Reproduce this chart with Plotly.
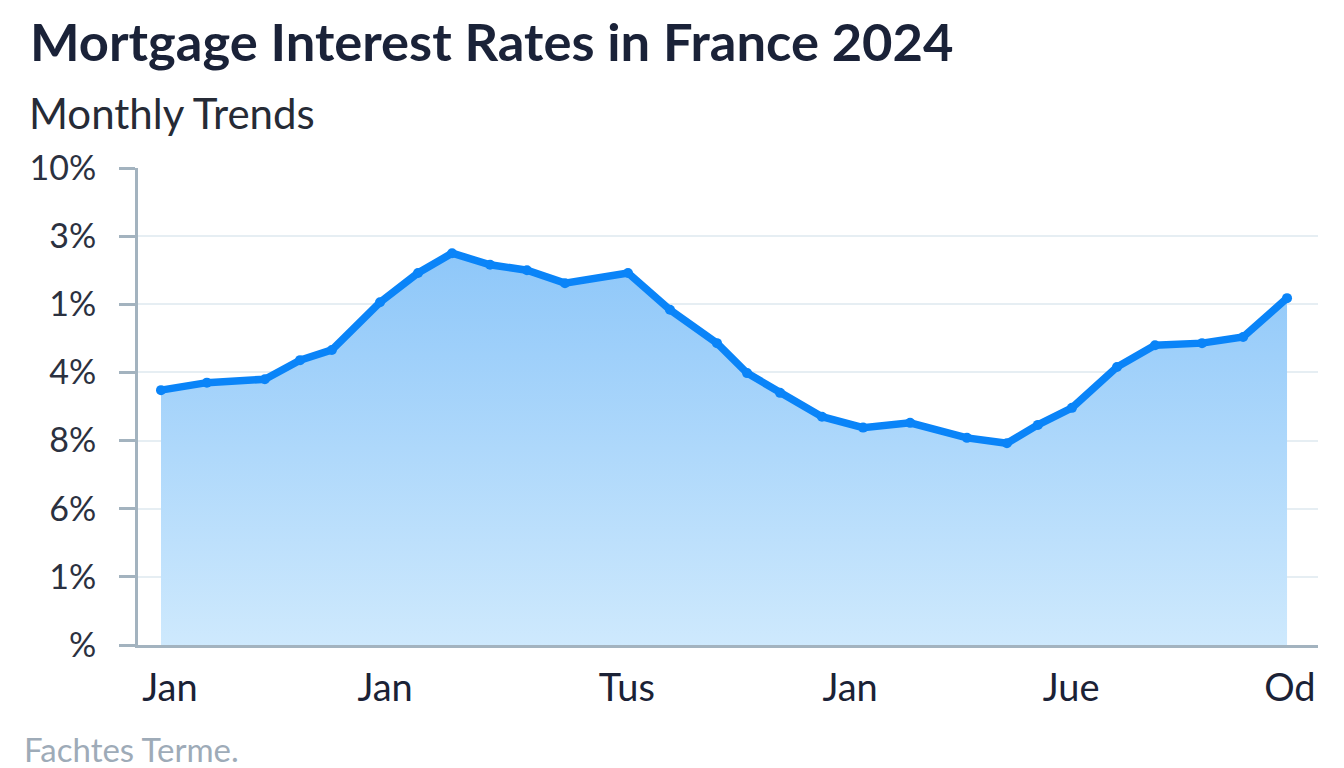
import plotly.graph_objects as go

# Data (x in weeks-like units, y in tick-index units 0..7)
x_pos = [0, 1.63, 3.69, 4.94, 6.07, 7.78, 9.13, 10.34, 11.69, 13.0, 14.35, 16.59,
         18.08, 19.75, 20.82, 21.99, 23.48, 24.94, 26.61, 28.63, 30.05, 31.15,
         32.36, 33.96, 35.31, 36.98, 38.44, 40.0]
rate_level = [3.74, 3.85, 3.90, 4.18, 4.33, 5.03, 5.46, 5.75, 5.58, 5.50, 5.31, 5.46,
              4.92, 4.43, 3.99, 3.70, 3.35, 3.19, 3.26, 3.04, 2.96, 3.23,
              3.48, 4.08, 4.40, 4.43, 4.52, 5.09]

x_tick_vals = [0.32, 7.96, 16.55, 24.48, 32.33, 40.1]
x_tick_text = ["Jan", "Jan", "Tus", "Jan", "Jue", "Od"]

y_tick_vals = [0, 1, 2, 3, 4, 5, 6, 7]
y_tick_text = ["%", "1%", "6%", "8%", "4%", "1%", "3%", "10%"]

title_text = "Mortgage Interest Rates in France 2024"
subtitle_text = "Monthly Trends"
footer_text = "Fachtes Terme."

FONT = "Lato, 'Open Sans', sans-serif"
AXIS_COL = "#a3b3bf"

fig = go.Figure()
fig.add_trace(go.Scatter(
    x=x_pos, y=rate_level,
    mode="lines+markers",
    line=dict(color="#0a84f8", width=7.5),
    marker=dict(color="#0a84f8", size=10),
    fill="tozeroy",
    fillgradient=dict(type="vertical",
                      colorscale=[[0, "rgb(206,233,253)"], [1, "rgb(142,199,249)"]]),
    hoverinfo="skip",
    showlegend=False,
))

fig.update_layout(
    width=1344, height=768,
    margin=dict(l=138, r=26, t=168, b=123),
    paper_bgcolor="white", plot_bgcolor="white",
    font=dict(family=FONT, color="#1e2638"),
    xaxis=dict(
        range=[-0.817, 41.1],
        tickvals=x_tick_vals, ticktext=x_tick_text,
        showgrid=False, zeroline=False,
        showline=True, linecolor=AXIS_COL, linewidth=3,
        ticks="", tickfont=dict(size=38, color="#1b2236", family=FONT),
        ticklabelstandoff=7,
    ),
    yaxis=dict(
        range=[0, 7],
        tickvals=y_tick_vals, ticktext=y_tick_text,
        showgrid=True, gridcolor="#e6eef3", gridwidth=1.5,
        zeroline=False,
        showline=True, linecolor=AXIS_COL, linewidth=3,
        ticks="outside", ticklen=16, tickwidth=3, tickcolor=AXIS_COL,
        tickfont=dict(size=34, color="#2b3140", family=FONT),
        ticklabelstandoff=16,
    ),
    annotations=[
        dict(text=f"<b>{title_text}</b>", xref="paper", yref="paper",
             x=(28 - 138) / 1180, y=(645 - 40) / 477, xanchor="left", yanchor="middle",
             showarrow=False, font=dict(size=52.5, color="#1a2238", family=FONT)),
        dict(text=subtitle_text, xref="paper", yref="paper",
             x=(27 - 138) / 1180, y=(645 - 113) / 477, xanchor="left", yanchor="middle",
             showarrow=False, font=dict(size=42, color="#262b36", family=FONT)),
        dict(text=footer_text, xref="paper", yref="paper",
             x=(22 - 138) / 1180, y=(645 - 749) / 477, xanchor="left", yanchor="middle",
             showarrow=False, font=dict(size=33, color="#9eabb8", family=FONT)),
    ],
)

fig.write_html("out.html", config={"displayModeBar": False},
               post_script="document.body.style.margin='0';")
